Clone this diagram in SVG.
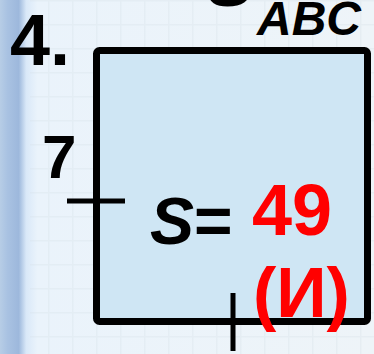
<svg xmlns="http://www.w3.org/2000/svg" width="374" height="354" viewBox="0 0 374 354">
<defs>
<linearGradient id="bg" x1="0" y1="0" x2="1" y2="0" gradientUnits="objectBoundingBox">
<stop offset="0" stop-color="#b7cde6"/>
<stop offset="0.02" stop-color="#a9c2e2"/>
<stop offset="0.05" stop-color="#9db8dc"/>
<stop offset="0.07" stop-color="#d9e8f8"/>
<stop offset="0.1" stop-color="#eaf3fb"/>
<stop offset="1" stop-color="#eef4f8"/>
</linearGradient>
<pattern id="grid" width="24" height="24" patternUnits="userSpaceOnUse">
<path d="M0 0.5H24M0.5 0V24" stroke="#d6e0e6" stroke-width="2" fill="none" opacity="0.3"/>
</pattern>
<style>
.t{font-family:"Liberation Sans",Arial,sans-serif;font-weight:bold}
.i{font-style:italic}
.k{fill:#000}
.r{fill:#ff0000}
.tick{stroke:#000;stroke-width:5;fill:none}
</style>
</defs>
<rect width="374" height="354" fill="url(#bg)"/>
<rect x="30" width="344" height="354" fill="url(#grid)"/>
<g id="title-s"><text class="t i k" x="207" y="6" font-size="70">S</text></g>
<g id="title-abc"><text class="t i k" x="257" y="35" font-size="48">ABC</text></g>
<g id="number"><text class="t k" x="10" y="65" font-size="72">4.</text></g>
<g id="square">
<rect x="96.5" y="50.5" width="271" height="271" rx="3" fill="#cfe6f4" stroke="#000" stroke-width="7"/>
</g>
<g id="connectors">
<line class="tick" x1="67" y1="201" x2="125" y2="201"/>
<line class="tick" x1="233" y1="293" x2="233" y2="351"/>
</g>
<g id="side-label"><text class="t k" x="42" y="178" font-size="62">7</text></g>
<g id="area">
<text class="t k" x="150" y="244" font-size="66"><tspan class="i">S</tspan>=</text>
<text class="t r" x="252" y="235" font-size="72">49</text>
<text class="t r" x="253" y="317" font-size="70">(И)</text>
</g>
</svg>
